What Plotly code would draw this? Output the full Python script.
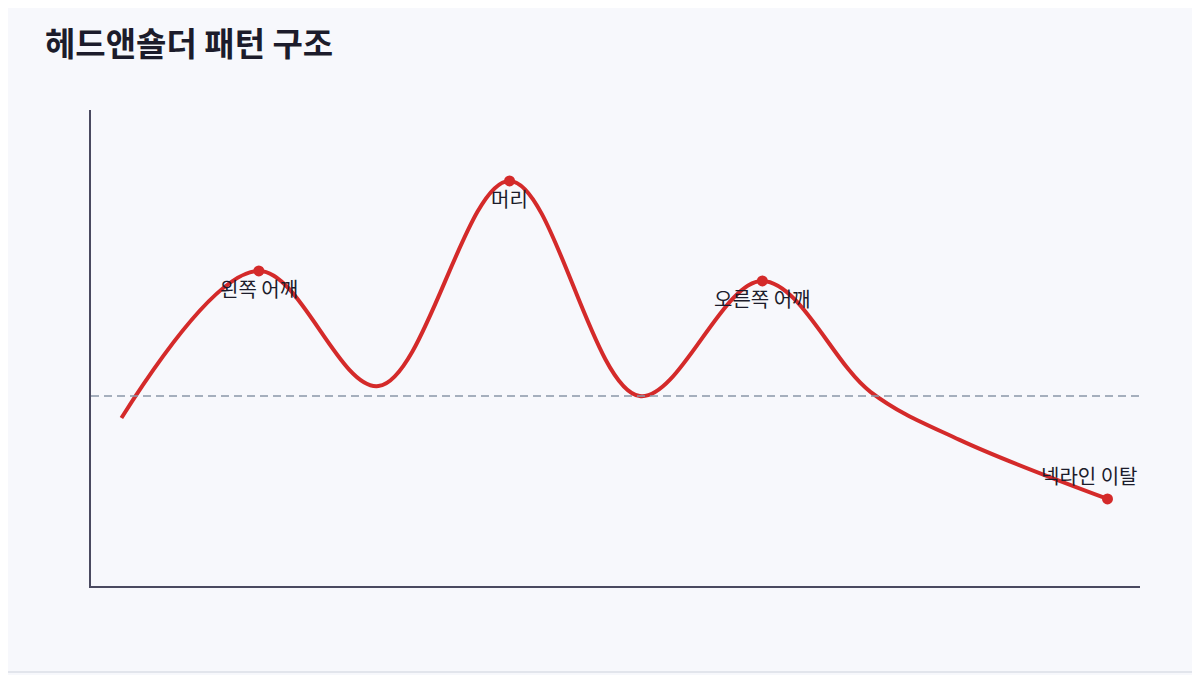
import plotly.graph_objects as go

# 헤드앤숄더 패턴 - 가격 경로 (임의 단위)
x_path = [2.9, 16.0, 27.4, 39.9, 52.3, 64.0, 74.3, 82.8, 96.9]
y_path = [35.3, 66.2, 42.0, 85.1, 39.9, 64.1, 40.8, 30.7, 18.3]

# 주요 지점
key_x = [16.0, 39.9, 64.0, 96.9]
key_y = [66.2, 85.1, 64.1, 18.3]
key_labels = ["왼쪽 어깨", "머리", "오른쪽 어깨", "넥라인 이탈"]

neckline = 39.9

RED = "#d42a2a"
INK = "#1c1c2b"
FONT = "Noto Sans CJK KR"

fig = go.Figure()

fig.add_trace(go.Scatter(
    x=x_path, y=y_path,
    mode="lines",
    line=dict(color=RED, width=4, shape="spline", smoothing=1.0),
    hoverinfo="skip",
    showlegend=False,
))

fig.add_trace(go.Scatter(
    x=key_x, y=key_y,
    mode="markers",
    marker=dict(color=RED, size=11),
    showlegend=False,
))

# 넥라인
fig.add_hline(y=neckline, line=dict(color="#8a96a8", width=1.5, dash="8px,5px"))

# 라벨 (마지막은 점 위쪽, 나머지는 점 아래쪽)
shifts = [(0, -18), (0, -18), (0, -18), (-18, 23)]
for lx, ly, txt, (dx, dy) in zip(key_x, key_y, key_labels, shifts):
    fig.add_annotation(
        x=lx, y=ly, text=txt, showarrow=False,
        xshift=dx, yshift=dy,
        font=dict(family=FONT, size=20, color=INK),
    )

# 페이지 여백(8px)을 감안한 여백
L, R, T, B = 83, 68, 102, 97
pw, ph = 1200 - L - R, 675 - T - B

# 바깥 테두리
fig.add_shape(
    type="rect", xref="paper", yref="paper",
    x0=(-6 - L) / pw, x1=(1190 - L) / pw,
    y0=(11 - B) / ph, y1=(681 - B) / ph,
    line=dict(color="#e2e5ec", width=2), layer="below",
)

fig.update_layout(
    width=1200, height=675,
    margin=dict(l=L, r=R, t=T, b=B),
    paper_bgcolor="#f7f8fc",
    plot_bgcolor="#f7f8fc",
    font=dict(family=FONT, color=INK),
    title=dict(
        text="<b>헤드앤숄더 패턴 구조</b>",
        x=37 / 1200, xanchor="left",
        y=1 - 36 / 675, yanchor="middle",
        font=dict(family=FONT, size=33, color=INK),
    ),
    xaxis=dict(range=[0, 100], showgrid=False, zeroline=False, showticklabels=False,
               ticks="", showline=True, linecolor="#4a4a60", linewidth=2),
    yaxis=dict(range=[0, 100], showgrid=False, zeroline=False, showticklabels=False,
               ticks="", showline=True, linecolor="#4a4a60", linewidth=2),
)

fig.write_html("out.html")
